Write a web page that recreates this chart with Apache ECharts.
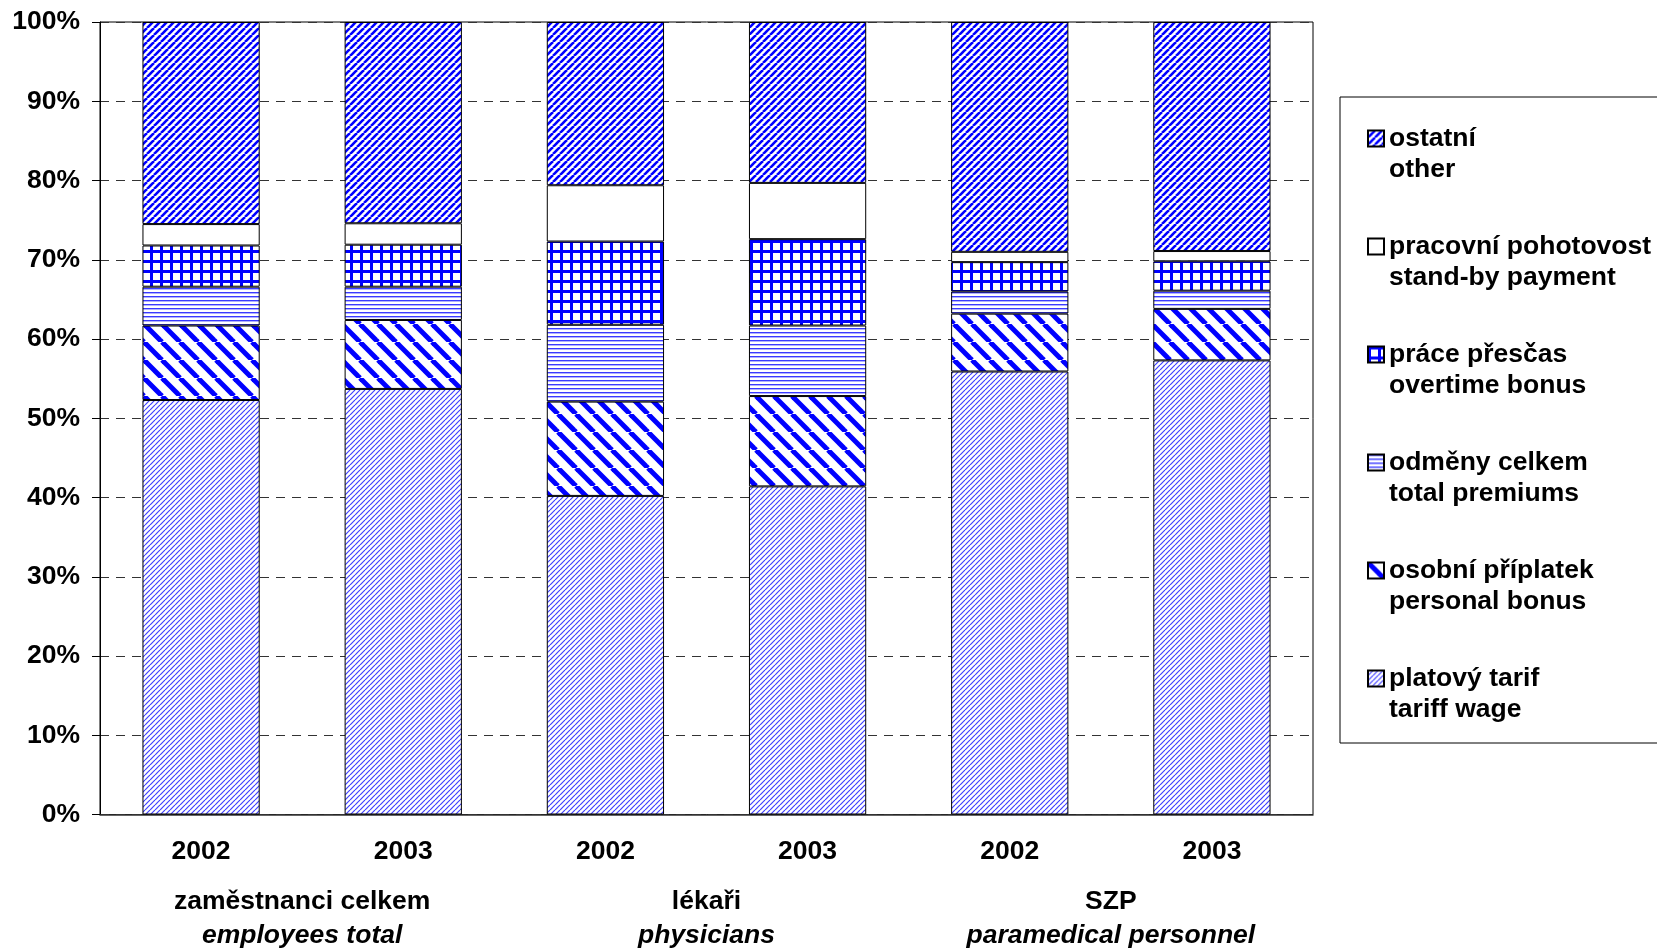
<!DOCTYPE html>
<html>
<head>
<meta charset="utf-8">
<script src="https://cdn.jsdelivr.net/npm/echarts@6/dist/echarts.min.js"></script>
<style>
  html, body { margin: 0; padding: 0; background: #fff; }
  #chart { width: 1657px; height: 949px; }
</style>
</head>
<body>
<div id="chart"></div>
<script>
const categories = ["2002", "2003", "2002", "2003", "2002", "2003"];
const groups = ["zaměstnanci celkem", "lékaři", "SZP"];
const groupsEn = ["employees total", "physicians", "paramedical personnel"];

const tariff = [52.3, 53.7, 40.2, 41.4, 55.9, 57.3];
const personal = [9.4, 8.7, 11.9, 11.4, 7.3, 6.5];
const premiums = [4.9, 4.2, 9.7, 8.9, 2.8, 2.3];
const overtime = [5.2, 5.3, 10.5, 10.9, 3.7, 3.7];
const standby = [2.7, 2.7, 7.1, 7.1, 1.3, 1.3];
const other = [25.5, 25.4, 20.6, 20.3, 29.0, 28.9];

const yTicks = [0, 10, 20, 30, 40, 50, 60, 70, 80, 90, 100];

const names = ["platový tarif", "osobní příplatek", "odměny celkem", "práce přesčas", "pracovní pohotovost", "ostatní"];
const namesEn = ["tariff wage", "personal bonus", "total premiums", "overtime bonus", "stand-by payment", "other"];

const BLUE = "#0000ff";
const FONT = "'Liberation Sans', Arial, sans-serif";
const FS = 26.5;

// little canvas tiles for the hatch fills
const tile = (size, draw) => {
  const c = document.createElement("canvas");
  c.width = size;
  c.height = size;
  const ctx = c.getContext("2d");
  ctx.fillStyle = "#fff";
  ctx.fillRect(0, 0, size, size);
  draw(ctx, size);
  return { image: c, repeat: "repeat" };
};

const diagUp = (size, lw, color) =>
  tile(size, (ctx, s) => {
    ctx.strokeStyle = color;
    ctx.lineWidth = lw;
    for (let k = -1; k <= 1; k++) {
      ctx.beginPath();
      ctx.moveTo(k * s, s);
      ctx.lineTo(k * s + s, 0);
      ctx.stroke();
    }
  });

const diagDown = (size, lw, color) =>
  tile(size, (ctx, s) => {
    ctx.strokeStyle = color;
    ctx.lineWidth = lw;
    for (let k = -1; k <= 1; k++) {
      ctx.beginPath();
      ctx.moveTo(k * s, 0);
      ctx.lineTo(k * s + s, s);
      ctx.stroke();
    }
  });

const hLines = (size, lw, color) =>
  tile(size, (ctx, s) => {
    ctx.fillStyle = color;
    ctx.fillRect(0, 0, s, lw);
  });

const grid = (size, lw, color) =>
  tile(size, (ctx, s) => {
    ctx.fillStyle = color;
    ctx.fillRect(0, 0, s, lw);
    ctx.fillRect(0, 0, lw, s);
  });

const fills = [
  diagUp(5, 1.2, "#4040ff"),   // tariff
  diagDown(18, 5, BLUE),       // personal
  hLines(4, 1.4, "#3a3aff"),   // premiums
  grid(10, 3, BLUE),           // overtime
  "#ffffff",                   // standby
  diagUp(7, 2.6, BLUE),        // other
];

const values = [tariff, personal, premiums, overtime, standby, other];

const chart = echarts.init(document.getElementById("chart"));

chart.setOption({
  animation: false,
  backgroundColor: "#fff",
  grid: {
    left: 100,
    right: 344,
    top: 22,
    bottom: 133,
    show: true,
    borderColor: "#000",
    borderWidth: 1,
  },
  legend: {
    orient: "vertical",
    left: 1367,
    top: 92,
    padding: 0,
    itemGap: 15,
    itemWidth: 16,
    itemHeight: 16,
    icon: "rect",
    selectedMode: false,
    data: names.slice().reverse(),
    // blank first line so the icon sits beside the Czech line
    formatter: (name) => " \n" + name + "\n" + namesEn[names.indexOf(name)],
    textStyle: {
      fontFamily: FONT,
      fontWeight: "bold",
      fontSize: FS,
      lineHeight: 31,
      color: "#000",
    },
  },
  graphic: [
    {
      type: "rect",
      shape: { x: 1340, y: 97, width: 400, height: 646 },
      style: { fill: "none", stroke: "#000", lineWidth: 1 },
      silent: true,
    },
  ],
  xAxis: [
    {
      type: "category",
      data: categories,
      axisLine: { show: true, lineStyle: { color: "#333", width: 1.5 } },
      axisTick: { show: false },
      axisLabel: {
        margin: 24,
        color: "#000",
        fontFamily: FONT,
        fontWeight: "bold",
        fontSize: FS,
      },
      splitLine: { show: false },
    },
    {
      type: "category",
      data: groups,
      position: "bottom",
      axisLine: { show: false },
      axisTick: { show: false },
      splitLine: { show: false },
      axisLabel: {
        margin: 70,
        formatter: (v, i) => "{a|" + v + "}\n{b|" + groupsEn[i] + "}",
        rich: {
          a: { fontFamily: FONT, fontWeight: "bold", fontSize: FS, lineHeight: 34, color: "#000" },
          b: { fontFamily: FONT, fontWeight: "bold", fontStyle: "italic", fontSize: FS, lineHeight: 34, color: "#000" },
        },
      },
    },
  ],
  yAxis: {
    type: "value",
    min: yTicks[0],
    max: yTicks[yTicks.length - 1],
    interval: yTicks[1] - yTicks[0],
    axisLine: { show: true, lineStyle: { color: "#000" } },
    axisTick: { show: true, length: 8, lineStyle: { color: "#000" } },
    axisLabel: {
      margin: 20,
      formatter: "{value}%",
      color: "#000",
      fontFamily: FONT,
      fontWeight: "bold",
      fontSize: FS,
    },
    splitLine: {
      show: true,
      lineStyle: { color: "#333", type: [9, 7], width: 1 },
    },
  },
  series: names.map((name, i) => ({
    name: name,
    type: "bar",
    stack: "total",
    barWidth: "58%",
    xAxisIndex: 0,
    data: values[i],
    itemStyle: {
      color: fills[i],
      borderColor: "#000",
      borderWidth: 1,
    },
  })),
});
</script>
</body>
</html>
